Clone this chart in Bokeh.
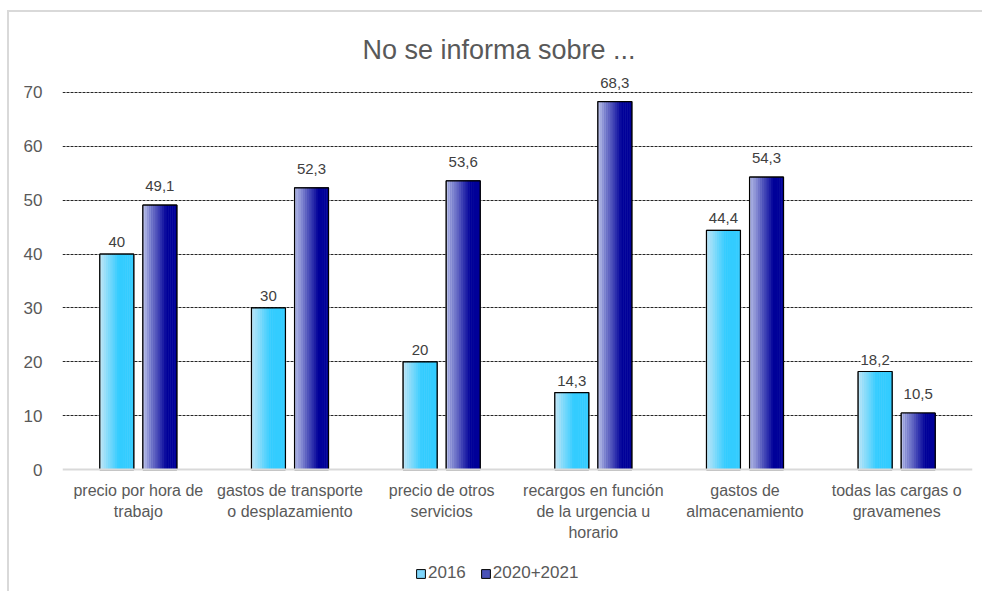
from bokeh.plotting import figure
from bokeh.models import (ColumnDataSource, FactorRange, Range1d, LabelSet, Legend,
                          LegendItem, Title, Span)
from bokeh.core.properties import value
from bokeh.transform import dodge
from bokeh.embed import file_html
from bokeh.resources import INLINE

categories = [
    "precio por hora de\ntrabajo",
    "gastos de transporte\no desplazamiento",
    "precio de otros\nservicios",
    "recargos en función\nde la urgencia u\nhorario",
    "gastos de\nalmacenamiento",
    "todas las cargas o\ngravamenes",
]
series_names = ["2016", "2020+2021"]
values_2016 = [40, 30, 20, 14.3, 44.4, 18.2]
values_2020 = [49.1, 52.3, 53.6, 68.3, 54.3, 10.5]
y_ticks = [0, 10, 20, 30, 40, 50, 60, 70]


def fmt(v):
    return f"{v:g}".replace(".", ",")


src = ColumnDataSource(dict(
    cat=categories,
    v1=values_2016,
    v2=values_2020,
    l1=[fmt(v) for v in values_2016],
    l2=[fmt(v) for v in values_2020],
    zero=[0] * len(categories),
))

FONT = "Liberation Sans"
W, H = 975, 581

p = figure(x_range=FactorRange(*categories), y_range=Range1d(-23, 75),
           width=W, height=H, output_backend="svg", toolbar_location=None,
           min_border_left=53, min_border_right=12, min_border_top=53,
           min_border_bottom=0, outline_line_color=None,
           background_fill_color="white", border_fill_color="white")
p.margin = (10, 0, 0, 7)
p.styles = {"border-top": "2px solid #d9d9d9", "border-left": "2px solid #d9d9d9"}

p.title = Title(text="No se informa sobre ...", align="left",
                text_font=FONT, text_font_size="27px", text_font_style="normal",
                text_color="#595959", offset=300, standoff=2)

# grid / axes
p.xaxis.visible = False
p.xgrid.grid_line_color = None
p.ygrid.grid_line_color = "#000000"
p.ygrid.grid_line_dash = "3 1"
p.ygrid.grid_line_width = 1
p.ygrid.grid_line_alpha = 0.85
p.yaxis.ticker = y_ticks
p.ygrid.ticker = [10, 20, 30, 40, 50, 60, 70]
p.yaxis.axis_line_color = None
p.yaxis.major_tick_line_color = None
p.yaxis.minor_tick_line_color = None
p.yaxis.major_label_text_font = FONT
p.yaxis.major_label_text_font_size = "17px"
p.yaxis.major_label_text_color = "#595959"
p.yaxis.major_label_standoff = 14

BAR_W = 0.224
OFF = 0.142
N = 16


def lerp(c1, c2, t):
    return "#%02x%02x%02x" % tuple(int(round(a + (b - a) * t)) for a, b in zip(c1, c2))


grads = [((196, 230, 247), (51, 204, 255), 0.55), ((188, 196, 234), (0, 0, 153), 0.7)]
base_cols = ["#7fd6fb", "#4a52b8"]
fields = ["v1", "v2"]
offsets = [-OFF, OFF]
base_r = []

for s in range(2):
    light, dark, stop = grads[s]
    # base bar (carries the legend swatch), covered by the gradient slices
    r = p.vbar(x=dodge("cat", offsets[s], range=p.x_range), top=fields[s],
               width=BAR_W, bottom=0, source=src, fill_color=base_cols[s],
               line_color="#000000", line_width=1)
    base_r.append(r)
    for i in range(N):
        t = (i + 0.5) / N
        col = lerp(light, dark, min(t / stop, 1.0))
        xo = offsets[s] - BAR_W / 2 + BAR_W * t
        p.vbar(x=dodge("cat", xo, range=p.x_range), top=fields[s],
               width=BAR_W / N * 1.08, bottom=0, source=src,
               fill_color=col, line_color=None)
    p.vbar(x=dodge("cat", offsets[s], range=p.x_range), top=fields[s],
           width=BAR_W, bottom=0, source=src, fill_color=None,
           line_color="#000000", line_width=1.2)

# category axis line and labels
p.add_layout(Span(location=0, dimension="width", line_color="#d9d9d9", line_width=2))
p.text(x="cat", y="zero", text="cat", source=src, y_offset=12,
       text_align="center", text_baseline="top", text_font=value(FONT),
       text_font_size=value("16px"), text_color="#595959", text_line_height=1.25)

# data labels
label_offsets = [7, 14]
for s, lf in enumerate(["l1", "l2"]):
    labels = LabelSet(x=dodge("cat", offsets[s], range=p.x_range), y=fields[s],
                      text=lf, source=src, text_align="center",
                      text_baseline="bottom", y_offset=label_offsets[s],
                      text_font=value(FONT), text_font_size=value("15px"),
                      text_color="#404040",
                      background_fill_color="white")
    p.add_layout(labels)

legend = Legend(items=[LegendItem(label=series_names[i], renderers=[base_r[i]])
                       for i in range(2)],
                orientation="horizontal", location=(353, 10),
                label_text_font=FONT, label_text_font_size="17px",
                label_text_color="#595959", glyph_width=11, glyph_height=11,
                label_standoff=2, spacing=14, padding=2, margin=0,
                border_line_color=None, background_fill_alpha=0)
p.add_layout(legend, "center")

open("out.html", "w").write(file_html(p, INLINE))
